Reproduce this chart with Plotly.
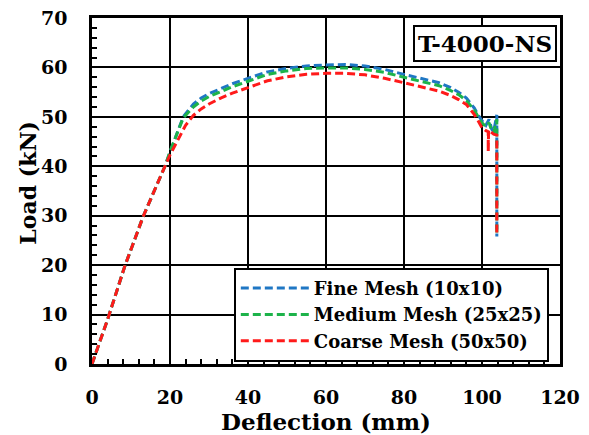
import plotly.graph_objects as go

# Deflection (mm) and load (kN) values
fine_x = [0, 4, 8.5, 13.2, 18.7, 20, 21.7, 23.4, 26, 28, 30, 33, 36, 40, 45, 50, 55, 60, 65, 70, 75, 80, 85, 89, 92, 94, 96, 98, 99, 100, 101, 101.8, 102.5, 103, 103.8, 103.8]
fine_y = [0, 9, 20, 30, 40, 43, 46.5, 50, 52.6, 53.8, 54.7, 55.7, 56.7, 57.8, 59.1, 59.8, 60.3, 60.5, 60.6, 60.3, 59.6, 58.6, 57.7, 56.9, 55.9, 55.0, 53.8, 51.8, 50.4, 49.2, 48.3, 49.5, 47.5, 47.0, 50.4, 25.8]

medium_x = [0, 4, 8.5, 13.2, 18.7, 20, 21.7, 23.4, 26, 28, 30, 33, 36, 40, 45, 50, 55, 60, 65, 70, 75, 80, 85, 89, 92, 94, 96, 98, 99, 100, 101, 101.8, 102.5, 103, 103.8, 103.8]
medium_y = [0, 9, 20, 30, 40, 43, 46.4, 49.8, 52.0, 53.2, 54.1, 55.1, 56.1, 57.2, 58.6, 59.3, 59.8, 59.9, 59.9, 59.6, 59.0, 58.0, 57.1, 56.3, 55.3, 54.5, 53.3, 51.4, 50.0, 48.8, 48.0, 48.8, 47.2, 46.8, 49.5, 26.0]

coarse_x = [0, 4, 8.5, 13.2, 18.7, 20, 22, 24, 26, 28, 30, 33, 36, 40, 45, 50, 55, 60, 65, 70, 75, 80, 85, 89, 92, 94, 96, 98, 99, 100, 101, 101.6, 101.6, 101.7, 102.5, 103, 103.8, 103.8]
coarse_y = [0, 9, 20, 30, 40, 42.3, 45.3, 48.3, 50.3, 51.6, 52.6, 53.8, 54.8, 55.9, 57.3, 58.1, 58.6, 58.8, 58.8, 58.5, 57.8, 56.9, 56.0, 55.2, 54.3, 53.5, 52.5, 50.5, 49.2, 47.8, 47.2, 47.0, 43.0, 47.3, 46.8, 46.5, 46.3, 26.0]

series_names = ["Fine Mesh (10x10)", "Medium Mesh (25x25)", "Coarse Mesh (50x50)"]
series_colors = ["#1f77c4", "#1db34a", "#ff1a1a"]

x_ticks = [0, 20, 40, 60, 80, 100, 120]
y_ticks = [0, 10, 20, 30, 40, 50, 60, 70]

FONT = "DejaVu Serif"

fig = go.Figure()
for xs, ys, name, col in zip([fine_x, medium_x, coarse_x], [fine_y, medium_y, coarse_y], series_names, series_colors):
    fig.add_trace(go.Scatter(x=xs, y=ys, mode="lines", name=name,
                             line=dict(color=col, width=3, dash="8px,4px")))

axis_common = dict(
    showline=True, linecolor="black", linewidth=2.5, mirror=True,
    showgrid=True, gridcolor="black", gridwidth=1.8,
    ticks="inside", ticklen=6, tickwidth=2, tickcolor="black",
    zeroline=False, automargin=False,
    tickfont=dict(family=FONT, size=19, color="black", weight="bold"),
)

fig.update_xaxes(range=[0, 120], tickvals=x_ticks, **axis_common,
                 minor=dict(dtick=4, ticks="inside", ticklen=5, tickwidth=2, tickcolor="black", showgrid=False),
                 ticklabelstandoff=14,
                 title=dict(text="Deflection (mm)", font=dict(family=FONT, size=23, color="black", weight="bold"), standoff=0))
fig.update_yaxes(range=[0, 70], tickvals=y_ticks, **axis_common,
                 minor=dict(dtick=2, ticks="inside", ticklen=5, tickwidth=2, tickcolor="black", showgrid=False),
                 ticklabelstandoff=18)

fig.add_annotation(text="Load (kN)", xref="paper", yref="paper", x=-0.1368, y=0.524,
                   xanchor="center", yanchor="middle", textangle=-90, showarrow=False,
                   font=dict(family=FONT, size=22, color="black", weight="bold"))

fig.add_annotation(text="T-4000-NS", xref="paper", yref="paper", x=0.9936, y=0.981,
                   xanchor="right", yanchor="top", showarrow=False,
                   font=dict(family=FONT, size=23, color="black", weight="bold"),
                   bgcolor="white", bordercolor="black", borderwidth=2, borderpad=3)

fig.update_layout(
    width=589, height=435,
    margin=dict(l=92, r=29, t=18, b=71),
    plot_bgcolor="white", paper_bgcolor="white",
    legend=dict(x=0.303, y=0.278, xanchor="left", yanchor="top",
                bgcolor="white", bordercolor="black", borderwidth=2,
                font=dict(family=FONT, size=18, color="black", weight="bold"),
                itemwidth=68, tracegroupgap=0),
    showlegend=True,
)

fig.write_html("out.html", config={"displayModeBar": False},
               post_script="document.body.style.margin='0';document.body.style.padding='0';")
